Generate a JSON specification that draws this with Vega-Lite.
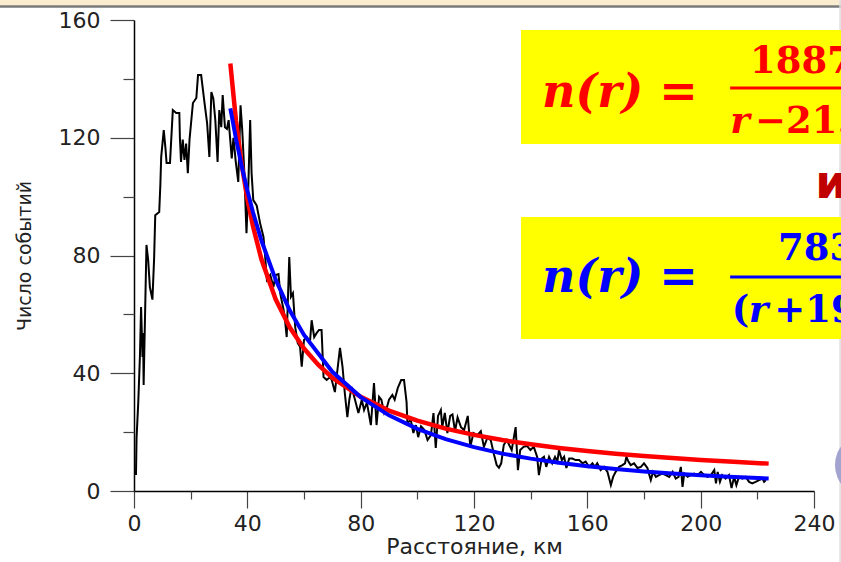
{
  "$schema": "https://vega.github.io/schema/vega-lite/v6.json",
  "width": 680,
  "height": 471,
  "autosize": {"type": "none"},
  "padding": {"left": 134, "top": 20, "right": 27, "bottom": 71},
  "background": "white",
  "config": {
    "view": {"stroke": null},
    "axis": {"grid": false, "labelFont": "DejaVu Sans", "titleFont": "DejaVu Sans", "labelColor": "#222", "titleColor": "#222", "titleFontWeight": "normal", "domainColor": "#000", "tickColor": "#444"}
  },
  "datasets": {
    "obs": [
      {"r":0.7,"n":5.4},{"r":0.9,"n":18},{"r":1.5,"n":30},{"r":2.1,"n":46},{"r":2.5,"n":62.5},{"r":3.0,"n":45.5},{"r":3.2,"n":53.7},{"r":3.4,"n":36},{"r":3.9,"n":59.8},{"r":4.4,"n":83.6},{"r":5.0,"n":78.5},{"r":5.6,"n":69.3},{"r":6.5,"n":65},{"r":7.1,"n":79},{"r":7.5,"n":93.7},{"r":8.9,"n":94.8},{"r":9.3,"n":104},{"r":9.6,"n":113.5},{"r":10.5,"n":122.6},{"r":11.1,"n":116.5},{"r":11.5,"n":111.4},{"r":12.7,"n":111.4},{"r":13.7,"n":129.4},{"r":14.9,"n":128.4},{"r":16.0,"n":128.4},{"r":16.2,"n":120},{"r":16.6,"n":111.8},{"r":17.2,"n":119.4},{"r":17.8,"n":112.5},{"r":18.4,"n":118},{"r":19.0,"n":108},{"r":19.6,"n":119.4},{"r":20.8,"n":131.8},{"r":22.0,"n":133.5},{"r":22.6,"n":141.3},{"r":23.7,"n":141.3},{"r":24.9,"n":131.8},{"r":25.8,"n":125},{"r":26.6,"n":113.5},{"r":27.3,"n":135.5},{"r":28.0,"n":133.3},{"r":28.7,"n":126},{"r":29.5,"n":111.8},{"r":30.1,"n":129.4},{"r":30.8,"n":123.6},{"r":31.3,"n":134.5},{"r":32.1,"n":123.6},{"r":32.8,"n":123},{"r":33.4,"n":126},{"r":34.5,"n":113},{"r":35.1,"n":120},{"r":35.9,"n":112},{"r":36.8,"n":105},{"r":37.6,"n":131},{"r":38.2,"n":122.6},{"r":38.9,"n":109},{"r":39.7,"n":87.6},{"r":40.3,"n":102},{"r":41.0,"n":126},{"r":41.5,"n":108},{"r":42.1,"n":98.8},{"r":43.3,"n":97},{"r":44.5,"n":91},{"r":45.7,"n":86.3},{"r":46.3,"n":79.5},{"r":46.9,"n":71.7},{"r":48.1,"n":73.4},{"r":49.2,"n":69.3},{"r":50.0,"n":73.4},{"r":51.0,"n":73.7},{"r":51.6,"n":67.2},{"r":52.8,"n":61.5},{"r":53.3,"n":58},{"r":53.9,"n":52.3},{"r":54.8,"n":79.5},{"r":55.4,"n":66},{"r":56.1,"n":67.2},{"r":56.9,"n":55.7},{"r":57.8,"n":50.2},{"r":58.6,"n":49},{"r":59.2,"n":42.2},{"r":60.0,"n":51.3},{"r":61.0,"n":52.3},{"r":62.1,"n":50.6},{"r":62.7,"n":58},{"r":63.6,"n":52.3},{"r":64.5,"n":53.7},{"r":65.3,"n":54.7},{"r":66.2,"n":54.7},{"r":66.9,"n":38.7},{"r":68.0,"n":37.7},{"r":69.2,"n":38.7},{"r":69.8,"n":37.7},{"r":70.9,"n":33.6},{"r":72.7,"n":48.6},{"r":73.6,"n":42.2},{"r":74.4,"n":33.3},{"r":75.3,"n":25.1},{"r":76.0,"n":31},{"r":76.8,"n":35.3},{"r":78.0,"n":31},{"r":79.2,"n":26.5},{"r":80.4,"n":31},{"r":81.2,"n":27.5},{"r":82.2,"n":30},{"r":83.6,"n":22.4},{"r":84.7,"n":36.7},{"r":85.6,"n":22.4},{"r":86.5,"n":32},{"r":87.3,"n":31},{"r":88.3,"n":26.5},{"r":89.2,"n":28.2},{"r":90.0,"n":31},{"r":91.2,"n":32.6},{"r":92.0,"n":31},{"r":93.1,"n":35},{"r":94.3,"n":37.7},{"r":95.3,"n":37.7},{"r":96.2,"n":30.2},{"r":96.5,"n":23.1},{"r":97.7,"n":24.1},{"r":98.6,"n":19.7},{"r":99.5,"n":22.4},{"r":100.3,"n":18.3},{"r":101.3,"n":22},{"r":102.5,"n":20.7},{"r":103.6,"n":17.3},{"r":104.8,"n":19},{"r":105.7,"n":26.5},{"r":106.5,"n":14.6},{"r":107.3,"n":25.5},{"r":108.3,"n":27.5},{"r":108.8,"n":21.7},{"r":109.7,"n":26.5},{"r":110.6,"n":19.7},{"r":111.6,"n":25.5},{"r":112.4,"n":26},{"r":113.3,"n":20.3},{"r":114.2,"n":25},{"r":115.4,"n":21.7},{"r":116.5,"n":20.7},{"r":117.8,"n":25.5},{"r":118.7,"n":15},{"r":119.8,"n":19.7},{"r":121.2,"n":19},{"r":122.4,"n":20.3},{"r":123.5,"n":15},{"r":124.7,"n":18},{"r":125.9,"n":17.3},{"r":127.1,"n":12.2},{"r":128.0,"n":8.8},{"r":128.8,"n":7.9},{"r":129.6,"n":9.4},{"r":130.5,"n":15.6},{"r":131.6,"n":17.3},{"r":133.3,"n":13.9},{"r":134.7,"n":21.7},{"r":135.5,"n":7.1},{"r":136.3,"n":13.9},{"r":137.5,"n":15},{"r":138.7,"n":15.3},{"r":139.9,"n":13.9},{"r":141.1,"n":15},{"r":142.3,"n":11.6},{"r":142.9,"n":5.4},{"r":143.9,"n":11},{"r":144.7,"n":11.6},{"r":145.5,"n":8.2},{"r":146.5,"n":11.6},{"r":147.6,"n":9.4},{"r":148.6,"n":11.6},{"r":149.4,"n":10},{"r":150.0,"n":13.9},{"r":151.0,"n":10.5},{"r":151.8,"n":11.6},{"r":152.6,"n":7.8},{"r":153.6,"n":11},{"r":154.7,"n":11},{"r":155.9,"n":10.5},{"r":157.1,"n":10.5},{"r":158.3,"n":9.4},{"r":159.4,"n":10},{"r":160.6,"n":8.2},{"r":161.8,"n":9.4},{"r":162.7,"n":8.2},{"r":163.5,"n":9.4},{"r":164.7,"n":7.1},{"r":165.9,"n":8.2},{"r":167.1,"n":6.5},{"r":168.3,"n":2},{"r":169.1,"n":4.8},{"r":170.0,"n":6.5},{"r":171.2,"n":8.2},{"r":172.4,"n":8.8},{"r":173.3,"n":9.4},{"r":173.8,"n":11.6},{"r":174.5,"n":10},{"r":175.3,"n":8.8},{"r":176.5,"n":9.4},{"r":177.7,"n":7.8},{"r":178.9,"n":8.2},{"r":180.0,"n":9.4},{"r":181.2,"n":7.8},{"r":182.4,"n":3.7},{"r":183.2,"n":6.5},{"r":184.2,"n":4.8},{"r":185.3,"n":5.4},{"r":186.5,"n":5.9},{"r":187.7,"n":5.4},{"r":188.9,"n":4.8},{"r":190.1,"n":6.5},{"r":191.2,"n":4.2},{"r":192.2,"n":4.8},{"r":193.0,"n":8.2},{"r":193.6,"n":1.4},{"r":194.2,"n":5.9},{"r":195.4,"n":4.8},{"r":196.5,"n":5.4},{"r":197.7,"n":5.9},{"r":198.9,"n":5.4},{"r":200.1,"n":6.5},{"r":201.3,"n":5.4},{"r":202.4,"n":4.8},{"r":203.6,"n":5.4},{"r":204.8,"n":7.1},{"r":205.4,"n":2.6},{"r":206.0,"n":6.5},{"r":206.8,"n":3.1},{"r":207.6,"n":5.4},{"r":208.8,"n":4.2},{"r":210.0,"n":5.4},{"r":210.9,"n":1.0},{"r":211.8,"n":4.8},{"r":212.6,"n":2.0},{"r":213.5,"n":4.8},{"r":214.7,"n":4.2},{"r":215.9,"n":4.8},{"r":217.1,"n":3.1},{"r":218.2,"n":2.6},{"r":219.4,"n":3.1},{"r":220.6,"n":3.7},{"r":221.8,"n":4.2},{"r":222.4,"n":3.1},{"r":223.0,"n":3.7}
    ],
    "red": [
      {"r":34,"n":145.2},{"r":36,"n":125.8},{"r":38,"n":111},{"r":40,"n":99.3},{"r":42,"n":89.9},{"r":45,"n":78.6},{"r":50,"n":65.1},{"r":55,"n":55.5},{"r":60,"n":48.4},{"r":65,"n":42.9},{"r":70,"n":38.5},{"r":80,"n":32},{"r":90,"n":27.3},{"r":100,"n":23.9},{"r":110,"n":21.2},{"r":120,"n":19.06},{"r":130,"n":17.3},{"r":140,"n":15.86},{"r":150,"n":14.63},{"r":160,"n":13.58},{"r":170,"n":12.66},{"r":180,"n":11.87},{"r":190,"n":11.17},{"r":200,"n":10.54},{"r":210,"n":9.98},{"r":224,"n":9.3}
    ],
    "blue": [
      {"r":34,"n":130},{"r":36,"n":119.6},{"r":38,"n":110.4},{"r":40,"n":102.1},{"r":42,"n":94.7},{"r":45,"n":85},{"r":50,"n":71.8},{"r":55,"n":61.3},{"r":60,"n":53},{"r":70,"n":40.5},{"r":80,"n":31.9},{"r":90,"n":25.7},{"r":100,"n":21.1},{"r":110,"n":17.6},{"r":120,"n":14.9},{"r":130,"n":12.7},{"r":140,"n":11},{"r":150,"n":9.57},{"r":160,"n":8.41},{"r":170,"n":7.44},{"r":180,"n":6.63},{"r":190,"n":5.93},{"r":200,"n":5.34},{"r":210,"n":4.83},{"r":224,"n":4.23}
    ],
    "boxes": [{"r":136.6,"r2":262,"n":117.9,"n2":156.6},{"r":136.6,"r2":262,"n":51.6,"n2":93.1}],
    "band": [{"r":-50,"r2":262,"n":164.9,"n2":172}],
    "bandline": [{"r":-50,"r2":262,"n":164.6}],
    "edge": [{"r":249.2,"n":-30,"n2":172}],
    "bars": [{"r":210.4,"r2":262,"n":136.9,"col":"red"},{"r":210.4,"r2":262,"n":72.7,"col":"blue"}],
    "big": [{"r":144,"n":130.4,"label":"n(r) =","col":"red"},{"r":144,"n":67.6,"label":"n(r) =","col":"blue"}],
    "num": [{"r":217.4,"n":142,"label":"1887","col":"red"},{"r":227.3,"n":78.5,"label":"783","col":"blue"}],
    "denup": [{"r":219.2,"n":121.6,"label":"−21.0","col":"red"},{"r":211,"n":57.4,"label":"(","col":"blue"},{"r":226,"n":57.4,"label":"+19","col":"blue"}],
    "denit": [{"r":210.4,"n":121.6,"label":"r","col":"red"},{"r":217,"n":57.4,"label":"r","col":"blue"}],
    "conj": [{"r":240.4,"n":99.5,"label":"и"}],
    "dot": [{"r":258.7,"n":8.8}]
  },
  "layer": [
    {
      "layer": [
        {
          "data": {"name": "obs"},
          "mark": {"type": "line", "color": "#000", "strokeWidth": 2},
          "encoding": {
            "x": {"field": "r", "type": "quantitative", "title": "Расстояние, км",
                  "scale": {"domain": [0, 240], "nice": false, "zero": false},
                  "axis": {"values": [0, 40, 80, 120, 160, 200, 240], "tickSize": 17, "tickWidth": 1.2, "domainWidth": 1.5, "labelFontSize": 22, "labelPadding": 5, "titleFontSize": 22, "titlePadding": 2, "labelFlush": false}},
            "y": {"field": "n", "type": "quantitative", "title": "Число событий",
                  "scale": {"domain": [0, 160], "nice": false, "zero": false},
                  "axis": {"values": [0, 40, 80, 120, 160], "tickSize": 24, "tickWidth": 1.2, "domainWidth": 1.5, "labelFontSize": 22, "labelPadding": 10, "titleFontSize": 19, "titlePadding": 24, "labelFlush": false}}
          }
        },
        {
          "data": {"name": "band"},
          "mark": {"type": "rect", "color": "#F9ECCF"},
          "encoding": {"x": {"field": "r", "type": "quantitative"}, "x2": {"field": "r2"}, "y": {"field": "n", "type": "quantitative"}, "y2": {"field": "n2"}}
        },
        {
          "data": {"name": "bandline"},
          "mark": {"type": "rule", "color": "#7A7A7A", "strokeWidth": 2.5},
          "encoding": {"x": {"field": "r", "type": "quantitative"}, "x2": {"field": "r2"}, "y": {"field": "n", "type": "quantitative"}}
        },
        {
          "data": {"name": "edge"},
          "mark": {"type": "rule", "color": "#DDDDDD", "strokeWidth": 1.5},
          "encoding": {"x": {"field": "r", "type": "quantitative"}, "y": {"field": "n", "type": "quantitative"}, "y2": {"field": "n2"}}
        },
        {
          "data": {"name": "boxes"},
          "mark": {"type": "rect", "color": "#FFFF00"},
          "encoding": {"x": {"field": "r", "type": "quantitative"}, "x2": {"field": "r2"}, "y": {"field": "n", "type": "quantitative"}, "y2": {"field": "n2"}}
        },
        {
          "data": {"name": "red"},
          "mark": {"type": "line", "color": "#FF0000", "strokeWidth": 4.5},
          "encoding": {"x": {"field": "r", "type": "quantitative"}, "y": {"field": "n", "type": "quantitative"}}
        },
        {
          "data": {"name": "bars"},
          "mark": {"type": "rule", "strokeWidth": 3},
          "encoding": {"x": {"field": "r", "type": "quantitative"}, "x2": {"field": "r2"}, "y": {"field": "n", "type": "quantitative"},
                       "color": {"field": "col", "type": "nominal", "scale": {"domain": ["red", "blue"], "range": ["#FF0000", "#0000FF"]}, "legend": null}}
        },
        {
          "data": {"name": "big"},
          "mark": {"type": "text", "align": "left", "baseline": "alphabetic", "font": "DejaVu Serif", "fontSize": 46, "fontWeight": "bold", "fontStyle": "italic"},
          "encoding": {"x": {"field": "r", "type": "quantitative"}, "y": {"field": "n", "type": "quantitative"}, "text": {"field": "label"},
                       "color": {"field": "col", "type": "nominal", "legend": null}}
        },
        {
          "data": {"name": "num"},
          "mark": {"type": "text", "align": "left", "baseline": "alphabetic", "font": "DejaVu Serif", "fontSize": 37, "fontWeight": "bold"},
          "encoding": {"x": {"field": "r", "type": "quantitative"}, "y": {"field": "n", "type": "quantitative"}, "text": {"field": "label"},
                       "color": {"field": "col", "type": "nominal", "legend": null}}
        },
        {
          "data": {"name": "denup"},
          "mark": {"type": "text", "align": "left", "baseline": "alphabetic", "font": "DejaVu Serif", "fontSize": 37, "fontWeight": "bold"},
          "encoding": {"x": {"field": "r", "type": "quantitative"}, "y": {"field": "n", "type": "quantitative"}, "text": {"field": "label"},
                       "color": {"field": "col", "type": "nominal", "legend": null}}
        },
        {
          "data": {"name": "denit"},
          "mark": {"type": "text", "align": "left", "baseline": "alphabetic", "font": "DejaVu Serif", "fontSize": 37, "fontWeight": "bold", "fontStyle": "italic"},
          "encoding": {"x": {"field": "r", "type": "quantitative"}, "y": {"field": "n", "type": "quantitative"}, "text": {"field": "label"},
                       "color": {"field": "col", "type": "nominal", "legend": null}}
        },
        {
          "data": {"name": "conj"},
          "mark": {"type": "text", "align": "left", "baseline": "alphabetic", "font": "DejaVu Sans", "fontSize": 46, "fontWeight": "bold", "color": "#C00000"},
          "encoding": {"x": {"field": "r", "type": "quantitative"}, "y": {"field": "n", "type": "quantitative"}, "text": {"field": "label"}}
        },
        {
          "data": {"name": "dot"},
          "mark": {"type": "point", "shape": "circle", "filled": true, "size": 4100, "color": "#A3A3CF", "opacity": 1},
          "encoding": {"x": {"field": "r", "type": "quantitative"}, "y": {"field": "n", "type": "quantitative"}}
        }
      ]
    },
    {
      "data": {"name": "blue"},
      "mark": {"type": "line", "color": "#0000FF", "strokeWidth": 4},
      "encoding": {
        "x": {"field": "r", "type": "quantitative",
              "axis": {"orient": "bottom", "values": [20, 60, 100, 140, 180, 220], "tickSize": 8, "tickWidth": 1.2, "labels": false, "domain": false, "title": null, "grid": false}},
        "y": {"field": "n", "type": "quantitative",
              "axis": {"orient": "left", "values": [20, 60, 100, 140], "tickSize": 11, "tickWidth": 1.2, "labels": false, "domain": false, "title": null, "grid": false}}
      }
    }
  ],
  "resolve": {"axis": {"x": "independent", "y": "independent"}}
}
